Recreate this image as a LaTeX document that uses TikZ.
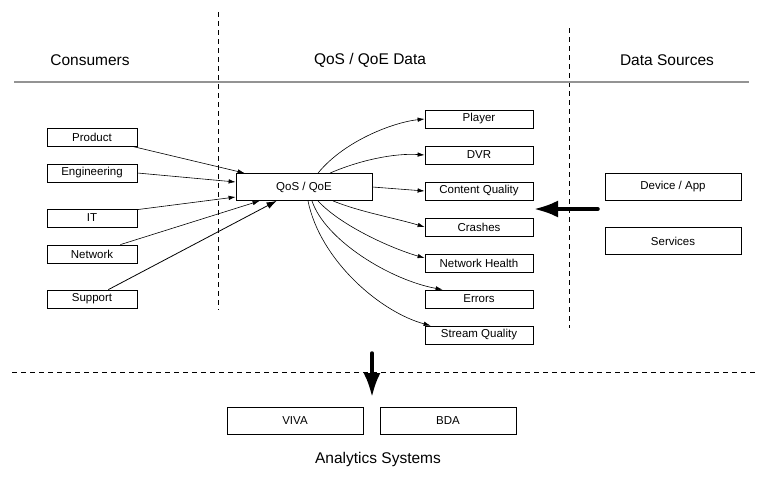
\documentclass[tikz,border=0pt]{standalone}
\usepackage{fontspec}
\setmainfont{Liberation Sans}
\usetikzlibrary{arrows.meta}
\begin{document}
\begin{tikzpicture}[x=1pt,y=-1pt,
  box/.style={draw, line width=0.8pt, inner sep=0pt, font=\fontsize{11.5}{13}\selectfont},
  consumer/.style={box, minimum width=90pt, minimum height=18pt},
  metric/.style={box, minimum width=108pt, minimum height=18pt},
  bigbox/.style={box, minimum width=136pt, minimum height=27pt},
  header/.style={font=\fontsize{15.5}{18}\selectfont},
  divider/.style={line width=0.7pt, dash pattern=on 5pt off 4pt},
  link/.style={line width=0.6pt, -{Latex[length=7pt,width=4.5pt]}},
  heavy/.style={line width=3.5pt, line cap=round, -{Latex[length=24pt,width=17pt]}}]
\useasboundingbox (0,0) rectangle (769,482);

% section dividers
\draw[divider] (218,12) -- (218,310);
\draw[divider] (569,28) -- (569,328);
\draw[divider] (12,372) -- (757,372);
\draw[line width=1.5pt, gray!85] (14,82) -- (749,82);

% headers
\node[header] (hcons) at (90,60) {Consumers};
\node[header] (hdata) at (370,60) {QoS / QoE Data};
\node[header] (hsrc) at (667,60) {Data Sources};
\node[header] (hana) at (378,459) {Analytics Systems};

% consumers
\node[consumer] (product) at (92,137) {Product};
\node[consumer] (engineering) at (92,173) {Engineering};
\node[consumer] (it) at (92,218) {IT};
\node[consumer] (network) at (92,254) {Network};
\node[consumer] (support) at (92,299) {Support};

% central hub
\node[bigbox] (qos) at (304,187) {QoS / QoE};

% metrics
\node[metric] (player) at (479,119) {Player};
\node[metric] (dvr) at (479,155) {DVR};
\node[metric] (cq) at (479,191) {Content Quality};
\node[metric] (crashes) at (479,227) {Crashes};
\node[metric] (nh) at (479,263) {Network Health};
\node[metric] (errors) at (479,299) {Errors};
\node[metric] (sq) at (479,335) {Stream Quality};

% data sources
\node[bigbox] (device) at (673,187) {Device / App};
\node[bigbox] (services) at (673,241) {Services};

% analytics systems
\node[bigbox] (viva) at (295,421) {VIVA};
\node[bigbox] (bda) at (448,421) {BDA};

% consumers feeding the hub
\draw[link] ([xshift=-5pt]product.south east) -- ([xshift=9pt]qos.north west);
\draw[link] (engineering.east) -- ([yshift=5pt]qos.west);
\draw[link] ([yshift=-1pt]it.north east) -- ([yshift=-10pt]qos.west);
\draw[link] ([xshift=-17pt]network.north east) -- ([xshift=24pt]qos.south west);
\draw[line width=0.8pt, -{Latex[length=10pt,width=7pt]}] ([xshift=-29pt]support.north east) -- ([xshift=41pt]qos.south west);

% hub to metrics
\draw[link] ([xshift=14pt]qos.north) .. controls (345,140) and (395,122) .. (player.west);
\draw[link] ([xshift=26pt]qos.north) .. controls (360,160) and (395,153) .. (dvr.west);
\draw[link] (qos.east) -- (cq.west);
\draw[link] ([xshift=29pt]qos.south) .. controls (360,212) and (395,218) .. (crashes.west);
\draw[link] ([xshift=14pt]qos.south) .. controls (340,225) and (390,248) .. ([yshift=5pt]nh.west);
\draw[link] ([xshift=8pt]qos.south) .. controls (325,240) and (390,280) .. ([xshift=18pt]errors.north west);
\draw[link] ([xshift=4pt]qos.south) .. controls (320,260) and (380,312) .. ([xshift=6pt]sq.north west);

% data flow arrows
\coordinate (srcstart) at (598,209);
\coordinate (srcend) at (534,209);
\draw[heavy] (srcstart) -- (srcend);
\coordinate (downstart) at (372,353);
\coordinate (downend) at (372,397);
\draw[heavy] (downstart) -- (downend);
\end{tikzpicture}
\end{document}
